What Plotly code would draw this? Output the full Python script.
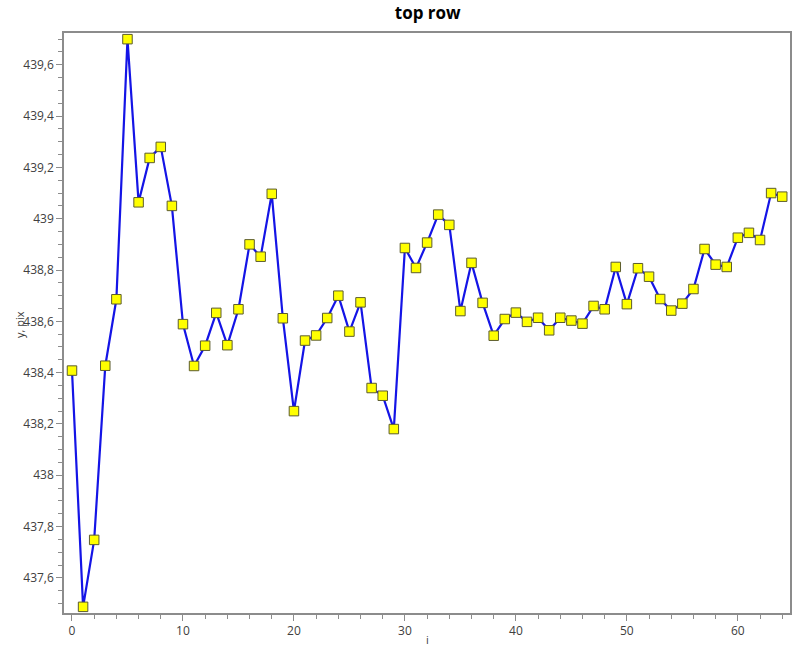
import plotly.graph_objects as go

# Row position (pixels) measured for each sample of the top row
idx = list(range(65))
y_pix = [
    438.408, 437.487, 437.748, 438.427, 438.686, 439.700, 439.064, 439.237,
    439.280, 439.050, 438.589, 438.426, 438.505, 438.633, 438.507, 438.647,
    438.900, 438.852, 439.097, 438.612, 438.250, 438.525, 438.545, 438.613,
    438.700, 438.560, 438.674, 438.340, 438.310, 438.180, 438.886, 438.808,
    438.907, 439.016, 438.976, 438.640, 438.828, 438.672, 438.544, 438.609,
    438.634, 438.598, 438.614, 438.565, 438.614, 438.603, 438.591, 438.660,
    438.647, 438.812, 438.667, 438.807, 438.774, 438.687, 438.642, 438.669,
    438.726, 438.882, 438.821, 438.812, 438.926, 438.945, 438.917, 439.100,
    439.086,
]

title_text = "top row"
x_title = "i"
y_title = "y, pix"

axis_grey = "#8c8c8c"
label_grey = "#404040"

fig = go.Figure()
fig.add_trace(go.Scatter(
    x=idx, y=y_pix,
    mode="lines+markers",
    line=dict(color="#1414e6", width=2.2),
    marker=dict(symbol="square", size=9.5, color="#ffff00",
                line=dict(color="#5c5c2e", width=1)),
    hoverinfo="x+y",
))

common = dict(
    showgrid=False, zeroline=False,
    showline=True, linecolor=axis_grey, linewidth=1.5, mirror=True,
    ticks="outside", ticklen=6, tickcolor=axis_grey, tickwidth=1,
    tickfont=dict(family="Open Sans", size=12, color=label_grey),
)

fig.update_layout(
    width=798, height=647,
    margin=dict(l=64, r=6, t=33, b=34),
    paper_bgcolor="white", plot_bgcolor="white",
    separators=", ",
    showlegend=False,
    title=dict(text="<b>" + title_text + "</b>", x=0.536, xanchor="center",
               y=1 - 13 / 647, yanchor="middle",
               font=dict(family="Open Sans", size=17, color="#000000")),
    xaxis=dict(range=[-0.72, 64.7], tick0=0, dtick=10,
               minor=dict(dtick=2, ticks="outside", ticklen=4,
                          tickcolor=axis_grey),
               **common),
    yaxis=dict(range=[437.463, 439.724], tick0=437.6, dtick=0.2,
               minor=dict(dtick=0.05, ticks="outside", ticklen=4,
                          tickcolor=axis_grey),
               **common),
    annotations=[
        dict(text=x_title, xref="paper", yref="paper", x=0.5, y=-0.045,
             xanchor="center", yanchor="middle", showarrow=False,
             font=dict(family="Open Sans", size=11, color=label_grey)),
        dict(text=y_title, xref="paper", yref="paper", x=-0.0604, y=0.497,
             xanchor="center", yanchor="middle", textangle=-90,
             showarrow=False,
             font=dict(family="Open Sans", size=11, color=label_grey)),
    ],
)

fig.write_html("out.html")
